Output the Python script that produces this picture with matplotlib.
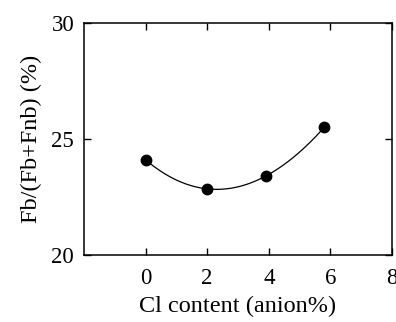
import numpy as np
import matplotlib
matplotlib.use("Agg")
import matplotlib.pyplot as plt

plt.rcParams['font.family'] = ['Liberation Serif', 'DejaVu Serif']

# Cl content (anion%) vs Fb/(Fb+Fnb) (%)
cl_content = [0.0, 2.0, 3.9, 5.8]
fb_ratio = [24.1, 22.85, 23.4, 25.5]

fig = plt.figure(figsize=(3.96, 3.22), dpi=100)
ax = fig.add_axes([0.212, 0.208, 0.778, 0.721])

# smooth curve through the points
coef = np.polyfit(cl_content, fb_ratio, 3)
xs = np.linspace(min(cl_content), max(cl_content), 200)
ax.plot(xs, np.polyval(coef, xs), color='black', lw=0.9)
ax.plot(cl_content, fb_ratio, 'o', color='black', ms=7.5)

ax.set_xlim(-2, 8)
ax.set_ylim(20, 30)
ax.set_xticks([0, 2, 4, 6, 8])
ax.set_yticks([20, 25, 30])
ax.tick_params(direction='in', top=True, right=True, labelsize=16.5,
               length=5, width=1)
ax.tick_params(axis='x', pad=9)
ax.tick_params(axis='y', pad=7)
for s in ax.spines.values():
    s.set_linewidth(1.1)

ax.set_xlabel("Cl content (anion%)", fontsize=17.5, labelpad=5)
ax.set_ylabel("Fb/(Fb+Fnb) (%)", fontsize=17.5, labelpad=7)

fig.savefig("out.png", dpi=100)
